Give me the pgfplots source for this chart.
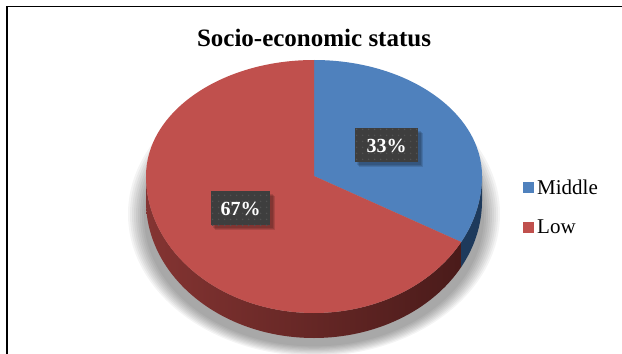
\documentclass[border=0pt]{standalone}
\usepackage{pgfplots}
\pgfplotsset{compat=1.18}
\usetikzlibrary{patterns.meta}
\usepackage{fontspec}
\setmainfont{Liberation Serif}
\definecolor{pieblue}{RGB}{79,129,189}
\definecolor{piered}{RGB}{192,80,77}
\definecolor{sideblue}{RGB}{30,58,92}
\definecolor{sideredL}{RGB}{132,52,50}
\definecolor{sideredM}{RGB}{92,34,32}
\definecolor{sideredR}{RGB}{74,27,26}
\definecolor{boxgrey}{RGB}{62,62,62}
\definecolor{dotgrey}{RGB}{82,82,82}
\tikzdeclarepattern{
  name=labeldots, type=uncolored,
  bounding box={(0,0) and (6bp,6bp)}, tile size={(6bp,6bp)},
  code={\fill (3bp,3bp) circle (0.9bp);}
}
% slice values (percent)
\def\valMiddle{33}
\def\valLow{67}
\begin{document}
\begin{tikzpicture}
\pgfmathsetmacro\cutang{90-360*\valMiddle/(\valMiddle+\valLow)}
\pgfmathsetmacro\cutangB{\cutang+360}
\pgfmathsetmacro\cutx{314+168*cos(\cutang)}
\pgfmathsetmacro\cuty{176-137*sin(\cutang)}
\begin{axis}[
  scale only axis, width=622bp, height=354bp,
  xmin=0, xmax=622, ymin=0, ymax=354, y dir=reverse,
  hide axis,
]
\fill[white] (axis cs:0,0) rectangle (axis cs:622,354);
% frame
\draw[black, line width=1.4bp] (axis cs:622,6.5) -- (axis cs:7,6.5) -- (axis cs:7,354);
% soft shadow
\pgfplotsinvokeforeach{0,...,8}{
  \fill[black, opacity=0.045] (axis cs:314,{214+#1*0.3}) ellipse [x radius={(186-2*#1)*1bp}, y radius={(142-1.5*#1)*1bp}];
}
% red side
\shade[shading=axis, left color=sideredL, middle color=sideredM, right color=sideredR]
  (axis cs:146,176) -- (axis cs:146,201)
  arc[start angle=180, end angle=\cutangB, x radius=168bp, y radius=137bp]
  -- ++(0bp,25bp)
  arc[start angle=\cutangB, end angle=180, x radius=168bp, y radius=137bp] -- cycle;
% blue side
\fill[sideblue] (axis cs:\cutx,\cuty)
  arc[start angle=\cutang, end angle=0, x radius=168bp, y radius=137bp]
  -- ++(0bp,-25bp)
  arc[start angle=0, end angle=\cutang, x radius=168bp, y radius=137bp] -- cycle;
% top faces
\fill[pieblue] (axis cs:314,176) -- (axis cs:314,60)
  arc[start angle=90, end angle=0, x radius=168bp, y radius=116bp]
  arc[start angle=0, end angle=\cutang, x radius=168bp, y radius=137bp] -- cycle;
\fill[piered] (axis cs:314,176) -- (axis cs:314,60)
  arc[start angle=90, end angle=180, x radius=168bp, y radius=116bp]
  arc[start angle=180, end angle=\cutangB, x radius=168bp, y radius=137bp] -- cycle;
% data labels
\pgfplotsinvokeforeach{0,1,2}{
  \fill[black, opacity=0.12] (axis cs:{357+#1},{131+#1}) rectangle (axis cs:{421+#1},{165+#1});
  \fill[black, opacity=0.12] (axis cs:{213+#1},{194+#1}) rectangle (axis cs:{273+#1},{228+#1});
}
\fill[boxgrey] (axis cs:355,128) rectangle (axis cs:418,162);
\fill[boxgrey] (axis cs:211,191) rectangle (axis cs:270,225);
\fill[pattern=labeldots, pattern color=dotgrey] (axis cs:355,128) rectangle (axis cs:418,162);
\fill[pattern=labeldots, pattern color=dotgrey] (axis cs:211,191) rectangle (axis cs:270,225);
\node[anchor=base, text=white, font=\fontsize{20bp}{24bp}\selectfont\bfseries, inner sep=0pt] at (axis cs:386.5,152.5) {\valMiddle\%};
\node[anchor=base, text=white, font=\fontsize{20bp}{24bp}\selectfont\bfseries, inner sep=0pt] at (axis cs:240.5,215.5) {\valLow\%};
% title
\node[anchor=base, font=\fontsize{25bp}{30bp}\selectfont\bfseries, inner sep=0pt] at (axis cs:314,46.5) {Socio-economic status};
% legend
\fill[pieblue] (axis cs:523,182) rectangle (axis cs:534,193);
\node[anchor=base west, font=\fontsize{21bp}{25bp}\selectfont, inner sep=0pt] at (axis cs:537,194) {Middle};
\fill[piered] (axis cs:523,222) rectangle (axis cs:534,233);
\node[anchor=base west, font=\fontsize{21bp}{25bp}\selectfont, inner sep=0pt] at (axis cs:537,233.5) {Low};
\end{axis}
\end{tikzpicture}
\end{document}
